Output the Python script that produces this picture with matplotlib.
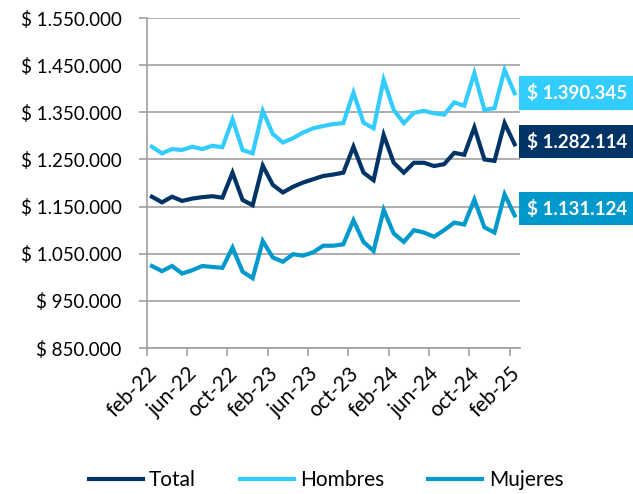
import matplotlib
matplotlib.use("Agg")
import matplotlib.pyplot as plt
from matplotlib.ticker import FuncFormatter

plt.rcParams['font.family'] = ['Lato', 'DejaVu Sans']

# Monthly series feb-22 .. feb-25 (pesos)
total = [1171000, 1159000, 1171000, 1162000, 1167000, 1170000, 1172000, 1169000, 1222000,
         1164000, 1153000, 1237000, 1196000, 1180000, 1192000, 1201000, 1208000, 1215000,
         1218000, 1222000, 1277000, 1222000, 1206000, 1302000, 1243000, 1222000, 1243000,
         1243000, 1236000, 1240000, 1264000, 1260000, 1318000, 1250000, 1247000, 1327000,
         1282114]
hombres = [1277000, 1263000, 1272000, 1270000, 1277000, 1272000, 1279000, 1276000, 1335000,
           1270000, 1263000, 1353000, 1304000, 1286000, 1295000, 1307000, 1316000, 1321000,
           1325000, 1327000, 1392000, 1328000, 1316000, 1419000, 1355000, 1327000, 1349000,
           1353000, 1348000, 1345000, 1371000, 1364000, 1433000, 1355000, 1359000, 1440000,
           1390345]
mujeres = [1024000, 1013000, 1024000, 1008000, 1015000, 1024000, 1022000, 1020000, 1063000,
           1012000, 998000, 1077000, 1042000, 1033000, 1049000, 1046000, 1053000, 1067000,
           1067000, 1070000, 1121000, 1075000, 1056000, 1143000, 1093000, 1075000, 1100000,
           1095000, 1086000, 1100000, 1116000, 1112000, 1165000, 1106000, 1095000, 1176000,
           1131124]
tick_labels = ["feb-22", "jun-22", "oct-22", "feb-23", "jun-23", "oct-23",
               "feb-24", "jun-24", "oct-24", "feb-25"]

c_total = "#003366"
c_homb = "#33CCFF"
c_muj = "#0099CC"
grid_c = "#A0A0A0"


def peso(v, pos=None):
    return "$ " + f"{int(round(v)):,}".replace(",", ".")


fig = plt.figure(figsize=(6.33, 4.94), dpi=100)
ax = fig.add_axes([0.232, 0.2955, 0.589, 0.668])

x = list(range(len(total)))
ax.plot(x, total, color=c_total, lw=3, label="Total", solid_joinstyle="miter")
ax.plot(x, hombres, color=c_homb, lw=3, label="Hombres", solid_joinstyle="miter")
ax.plot(x, mujeres, color=c_muj, lw=3, label="Mujeres", solid_joinstyle="miter")

ax.set_xlim(-0.5, len(total) - 0.5)
ax.set_ylim(850000, 1550000)
ax.set_yticks(range(850000, 1550001, 100000))
ax.yaxis.set_major_formatter(FuncFormatter(peso))
ax.set_xticks([i * 4 - 0.5 for i in range(len(tick_labels))])
ax.set_xticklabels(tick_labels, rotation=45, ha="right", rotation_mode="anchor")

ax.grid(axis="y", color=grid_c, lw=1.2)
ax.set_axisbelow(True)
for s in ["top", "right"]:
    ax.spines[s].set_visible(False)
for s in ["left", "bottom"]:
    ax.spines[s].set_color(grid_c)
    ax.spines[s].set_linewidth(1.2)
ax.tick_params(axis="both", colors=grid_c, length=6, width=1.2,
               labelcolor="black")
ax.tick_params(axis="y", labelsize=13.5, pad=12)
ax.tick_params(axis="x", labelsize=15, pad=5)

# end value labels
for vals, col, dy in [(hombres, c_homb, 0), (total, c_total, 2), (mujeres, c_muj, 5)]:
    ax.annotate(peso(vals[-1]), xy=(len(vals) - 1, vals[-1]), xytext=(9, dy),
                textcoords="offset points", va="center", ha="left",
                color="white", fontsize=13.5, fontweight="bold",
                bbox=dict(boxstyle="square,pad=0.42", fc=col, ec="none"),
                annotation_clip=False)

fig.legend(loc="lower center", bbox_to_anchor=(0.515, -0.03), ncol=3, frameon=False,
           fontsize=15, handlelength=2.6, handletextpad=0.3, columnspacing=2.1)

fig.savefig("out.png", dpi=100)
